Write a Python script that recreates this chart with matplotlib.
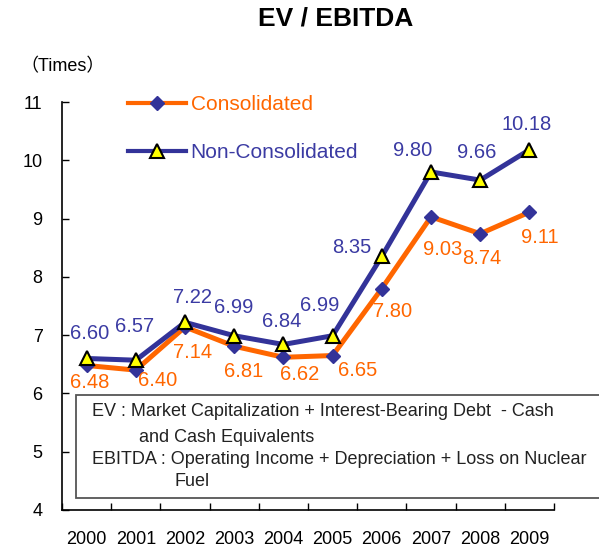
import matplotlib.pyplot as plt
from matplotlib.patches import Rectangle
from matplotlib.ticker import FixedLocator
import numpy as np

plt.rcParams['font.family'] = ['Liberation Sans', 'DejaVu Sans']

years = ['2000', '2001', '2002', '2003', '2004', '2005', '2006', '2007', '2008', '2009']
consolidated = [6.48, 6.40, 7.14, 6.81, 6.62, 6.65, 7.80, 9.03, 8.74, 9.11]
non_consolidated = [6.60, 6.57, 7.22, 6.99, 6.84, 6.99, 8.35, 9.80, 9.66, 10.18]

# label offsets in pixels (dx, dy up)
cons_offsets = [(3, -17), (22, -10), (8, -26), (9, -25), (16, -17),
                (25, -15), (11, -23), (12, -33), (2, -25), (10, -25)]
nc_offsets = [(3, 25), (-1, 34), (7, 25), (-1, 28), (-2, 23),
              (-13, 30), (-30, 9), (-18, 21), (-4, 28), (-3, 25)]

orange = '#FF6600'
blue = '#333399'
blue_txt = '#3B3BA3'

W, H = 599, 548
fig = plt.figure(figsize=(W / 100, H / 100), dpi=100)
ax = fig.add_axes([62 / W, 1 - 510 / H, (554 - 62) / W, (510 - 102) / H])

x = np.arange(len(years))
ax.plot(x, consolidated, '-', color=orange, lw=3.6, marker='D', ms=7.5,
        mfc=blue, mec=blue, label='Consolidated', zorder=3)
ax.plot(x, non_consolidated, '-', color=blue, lw=3.6, marker='^', ms=9.5,
        mfc='#FFFF00', mec='black', mew=1.5, label='Non-Consolidated', zorder=4)

for xi, v, (dx, dy) in zip(x, consolidated, cons_offsets):
    ax.annotate(f'{v:.2f}', (xi, v), xytext=(dx, dy), textcoords='offset pixels',
                ha='center', va='center', fontsize=14.5, color=orange)
for xi, v, (dx, dy) in zip(x, non_consolidated, nc_offsets):
    ax.annotate(f'{v:.2f}', (xi, v), xytext=(dx, dy), textcoords='offset pixels',
                ha='center', va='center', fontsize=14.5, color=blue_txt)

ax.set_xlim(-0.5, len(years) - 0.5)
ax.set_ylim(4, 11)
ax.set_yticks(range(4, 12))
ax.set_xticks(x)
ax.set_xticklabels(years)
ax.xaxis.set_minor_locator(FixedLocator(np.arange(-0.5, len(years), 1.0)))
ax.tick_params(axis='x', which='major', length=0, pad=15, labelsize=13)
ax.tick_params(axis='x', which='minor', direction='in', length=5, width=1)
ax.tick_params(axis='y', direction='in', length=5, width=1, pad=14, labelsize=13)

for s in ('top', 'right'):
    ax.spines[s].set_visible(False)
for s in ('left', 'bottom'):
    ax.spines[s].set_linewidth(1.2)

leg = ax.legend(loc='upper left', bbox_to_anchor=(128 / W, 1 - 95 / H),
                bbox_transform=fig.transFigure, frameon=False, fontsize=15,
                handlelength=2.8, handletextpad=0.2, labelspacing=1.4,
                borderpad=0, borderaxespad=0)
leg.get_texts()[0].set_color(orange)
leg.get_texts()[1].set_color(blue_txt)
for ln in leg.get_lines():
    ln.set_linewidth(3)

# definition box
box = Rectangle((76 / W, 1 - 498 / H), 1.0, (498 - 395) / H, transform=fig.transFigure,
                facecolor='white', edgecolor='#555555', lw=1.3, zorder=5)
fig.add_artist(box)
notes = [
    (92, 412, 'EV : Market Capitalization + Interest-Bearing Debt  - Cash'),
    (139, 437, 'and Cash Equivalents'),
    (92, 460, 'EBITDA : Operating Income + Depreciation + Loss on Nuclear'),
    (175, 482, 'Fuel'),
]
for px, py, t in notes:
    fig.text(px / W, 1 - py / H, t, fontsize=13, color='#222222', ha='left', va='center', zorder=6)

fig.text(258 / W, 1 - 19 / H, 'EV / EBITDA', fontsize=19, fontweight='bold', ha='left', va='center')
fig.text(20 / W, 1 - 67 / H, '（Times）', fontsize=13, ha='left', va='center',
         family=['Liberation Sans', 'Noto Sans CJK JP'])

fig.savefig('out.png', dpi=100)
